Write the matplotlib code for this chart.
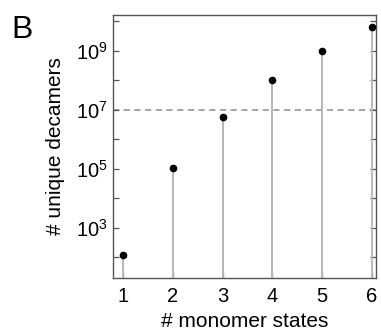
"""Stem plot of unique decamers vs number of monomer states."""

import matplotlib

matplotlib.use("Agg")
import matplotlib.pyplot as plt
from matplotlib.ticker import NullFormatter

# data
monomer_states = [1, 2, 3, 4, 5, 6]
unique_decamers = [120, 1.05e5, 5.8e6, 1.05e8, 1.0e9, 6.3e9]
threshold = 1e7

major_ticks = [1e3, 1e5, 1e7, 1e9]
major_labels = ["$\\mathregular{10^3}$", "$\\mathregular{10^5}$",
                "$\\mathregular{10^7}$", "$\\mathregular{10^9}$"]
minor_ticks = [1e2, 1e4, 1e6, 1e8, 1e10]

plt.rcParams["font.family"] = ["Liberation Sans", "DejaVu Sans"]
plt.rcParams["mathtext.fontset"] = "custom"
plt.rcParams["mathtext.rm"] = "Liberation Sans"

fig = plt.figure(figsize=(3.81, 3.33), dpi=100)
ax = fig.add_axes([0.2966, 0.166, 0.6903, 0.7899])

ax.set_yscale("log")
ax.set_xlim(0.8, 6.08)
ax.set_ylim(20, 1.7e10)

ax.vlines(monomer_states, 1, unique_decamers, color="#b8b8b8", linewidth=1.4, zorder=2)
ax.axhline(threshold, color="#8c8c8c", linestyle=(0, (4, 3)), linewidth=1.1, zorder=1)
ax.plot(monomer_states, unique_decamers, "o", color="black", markersize=4.5, zorder=3)

ax.set_xticks(monomer_states)
ax.set_yticks(major_ticks)
ax.set_yticklabels(major_labels)
ax.set_yticks(minor_ticks, minor=True)
ax.yaxis.set_minor_formatter(NullFormatter())
ax.tick_params(which="both", direction="in", length=4, width=0.9, color="#555555",
               left=True, right=True, top=False, labelsize=14.5, pad=4)
ax.tick_params(axis="x", pad=7)

for spine in ax.spines.values():
    spine.set_color("#555555")
    spine.set_linewidth(1.0)

ax.set_xlabel("# monomer states", fontsize=15, labelpad=4)
ax.set_ylabel("# unique decamers", fontsize=15, labelpad=8)

fig.text(0.03, 0.955, "B", fontsize=23, va="top", ha="left")

fig.savefig("out.png", dpi=100)
